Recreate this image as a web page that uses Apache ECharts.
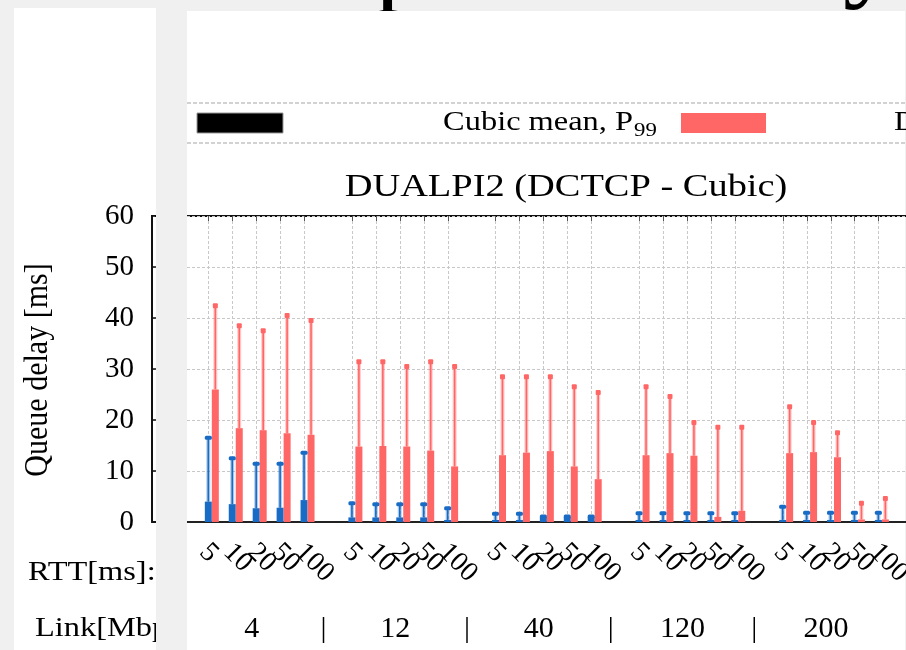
<!DOCTYPE html>
<html><head><meta charset="utf-8">
<script src="https://cdn.jsdelivr.net/npm/echarts@6/dist/echarts.min.js"></script>
<style>html,body{margin:0;padding:0;background:#f0f0f0}#c{width:906px;height:650px}</style>
</head><body><div id="c"></div>
<script>
// ---- data ----
const linkRates = ['4', '12', '40', '120', '200'];
const rttLabels = ['5', '10', '20', '50', '100'];
const yTicks = [0, 10, 20, 30, 40, 50, 60];
const dctcpMean = [4.0, 3.5, 2.7, 2.8, 4.3,  0.9, 0.9, 0.9, 0.9, 0.4,  0.4, 0.4, 1.0, 1.0, 1.0,  0.4, 0.4, 0.4, 0.4, 0.4,  0.4, 0.4, 0.4, 0.4, 0.4];
const dctcpP99  = [16.5, 12.5, 11.4, 11.4, 13.6,  3.7, 3.5, 3.5, 3.5, 2.7,  1.6, 1.6, 1.1, 1.1, 1.1,  1.7, 1.7, 1.7, 1.7, 1.7,  3.0, 1.8, 1.8, 1.8, 1.8];
const cubicMean = [26.0, 18.4, 18.0, 17.4, 17.1,  14.8, 14.9, 14.8, 14.0, 10.9,  13.1, 13.6, 13.9, 10.9, 8.4,  13.1, 13.5, 13.0, 1.0, 2.2,  13.5, 13.7, 12.7, 0.5, 0.5];
const cubicP99  = [42.4, 38.5, 37.5, 40.5, 39.5,  31.4, 31.4, 30.5, 31.4, 30.5,  28.5, 28.5, 28.5, 26.5, 25.4,  26.5, 24.6, 19.5, 18.6, 18.6,  22.6, 19.5, 17.5, 3.7, 4.6];

// ---- layout / style ----
const FONT = '"Liberation Serif", "Times New Roman", serif';
const BLUE = '#186cc6', RED = '#ff6666';
const BAR_W = 7;
const SLOT = 23.93, LEAD = 2, TRAIL = 2;
const GRID_LEFT = 152, GRID_TOP = 216, GRID_H = 306;

// build slots (leading empties, groups separated by gap slots)
const slots = [];
for (let k = 0; k < LEAD; k++) slots.push({ rtt: '', link: '', di: -1 });
linkRates.forEach((lr, g) => {
  if (g > 0) slots.push({ rtt: '', link: '|', di: -1 });
  rttLabels.forEach((r, j) => slots.push({ rtt: r, link: j === 2 ? lr : '', di: g * rttLabels.length + j }));
});
for (let k = 0; k < TRAIL; k++) slots.push({ rtt: '', link: '', di: -1 });
const slotNames = slots.map((s, i) => 'slot' + i);
const GRID_W = slots.length * SLOT;

const barData = arr => slots.map(s => s.di < 0 ? '-' : arr[s.di]);
const errData = (m, p) => slots.map((s, i) => s.di < 0 ? null : [i, m[s.di], p[s.di]]).filter(Boolean);
const gridLineData = slots.map((s, i) => s.di < 0 ? null : [i, 0]).filter(Boolean);

function errRender(offset, color, blueCap) {
  return function (params, api) {
    const idx = api.value(0);
    const a = api.coord([idx, api.value(1)]);
    const b = api.coord([idx, api.value(2)]);
    const x = a[0] + offset;
    const children = [
      { type: 'line', shape: { x1: x, y1: a[1], x2: x, y2: b[1] }, style: { stroke: color, lineWidth: 4, opacity: 0.35 } },
      { type: 'line', shape: { x1: x, y1: a[1], x2: x, y2: b[1] }, style: { stroke: color, lineWidth: 1.6 } }
    ];
    if (blueCap) {
      children.push({ type: 'rect', shape: { x: x - 3.5, y: b[1] - 2, width: 7, height: 4, r: 1.5 }, style: { fill: color } });
    } else {
      children.push({ type: 'rect', shape: { x: x - 2.5, y: b[1] - 2.5, width: 5, height: 5, r: 1 }, style: { fill: color } });
    }
    return { type: 'group', children };
  };
}

const chart = echarts.init(document.getElementById('c'), null, { renderer: 'canvas' });
chart.setOption({
  backgroundColor: '#f0f0f0',
  animation: false,
  textStyle: { fontFamily: FONT },
  grid: [
    { left: GRID_LEFT, top: GRID_TOP, width: GRID_W, height: GRID_H, show: true, borderColor: '#111', borderWidth: 2,
      backgroundColor: 'transparent', containLabel: false, outerBoundsMode: 'none' },
    { left: GRID_LEFT - 8, top: GRID_TOP, width: GRID_W, height: GRID_H, show: false, containLabel: false, outerBoundsMode: 'none' }
  ],
  xAxis: [
    { gridIndex: 0, type: 'category', data: slotNames, position: 'bottom', boundaryGap: true,
      axisLine: { show: true, lineStyle: { color: '#222', width: 2 } }, axisTick: { show: false },
      axisLabel: { show: false }, splitLine: { show: false } },
    { gridIndex: 1, type: 'category', data: slotNames, position: 'bottom', boundaryGap: true,
      axisLine: { show: false }, axisTick: { show: false }, splitLine: { show: false },
      axisLabel: { interval: 0, rotate: -45, margin: 26, color: '#000', fontFamily: FONT, fontSize: 28,
        formatter: (v, i) => slots[i].rtt } },
    { gridIndex: 1, type: 'category', data: slotNames, position: 'bottom', offset: 92, boundaryGap: true,
      axisLine: { show: false }, axisTick: { show: false }, splitLine: { show: false },
      axisLabel: { interval: 0, margin: 0, color: '#000', fontFamily: FONT, fontSize: 30,
        formatter: (v, i) => slots[i].link } }
  ],
  yAxis: [
    { gridIndex: 0, type: 'value', min: yTicks[0], max: yTicks[yTicks.length - 1], interval: 10,
      axisLine: { show: true, lineStyle: { color: '#111', width: 2 } },
      axisTick: { show: true, inside: true, length: 4, lineStyle: { color: '#111', width: 1.5 } },
      axisLabel: { margin: 18, color: '#000', fontFamily: FONT, fontSize: 29 },
      splitLine: { show: true, lineStyle: { color: '#c8c8c8', width: 1, type: [3, 2] } } },
    { gridIndex: 1, type: 'value', show: false, min: 0, max: 60 }
  ],
  graphic: { elements: [
    // panels and left-panel captions (main panel hides caption overflow)
    { type: 'rect', z: -4, shape: { x: 14, y: 8, width: 142, height: 650 }, style: { fill: '#fff' } },
    { type: 'text', z: -3, x: 375, y: -38, style: { text: 'p', font: '110px ' + FONT, fill: '#000', align: 'left', verticalAlign: 'middle' } },
    { type: 'text', z: -3, x: 843, y: -42, style: { text: 'y', font: '110px ' + FONT, fill: '#000', align: 'left', verticalAlign: 'middle' } },
    { type: 'text', z: -3, x: 28, y: 573, scaleX: 1.2, style: { text: 'RTT[ms]:', font: '27px ' + FONT, fill: '#000', align: 'left', verticalAlign: 'middle' } },
    { type: 'text', z: -3, x: 35, y: 629, scaleX: 1.2, style: { text: 'Link[Mbps]:', font: '27px ' + FONT, fill: '#000', align: 'left', verticalAlign: 'middle' } },
    { type: 'text', z: -3, x: 38, y: 370, rotation: Math.PI / 2, scaleY: 1.15, style: { text: 'Queue delay [ms]', font: '30px ' + FONT, fill: '#000', align: 'center', verticalAlign: 'middle' } },
    { type: 'rect', z: -2, shape: { x: 187, y: 11, width: 718, height: 650 }, style: { fill: '#fff' } },
    // strip between the panels (covers the plot)
    { type: 'rect', z: 100, shape: { x: 156, y: 0, width: 31, height: 650 }, style: { fill: '#f0f0f0' } },
    // legend row
    { type: 'line', z: 5, shape: { x1: 187, y1: 103, x2: 905, y2: 103 }, style: { stroke: '#c4c4c4', lineWidth: 1.5, lineDash: [4, 2] } },
    { type: 'line', z: 5, shape: { x1: 187, y1: 143, x2: 905, y2: 143 }, style: { stroke: '#c4c4c4', lineWidth: 1.5, lineDash: [4, 2] } },
    { type: 'rect', z: 5, shape: { x: 197, y: 113, width: 86, height: 20 }, style: { fill: '#000', stroke: '#999', lineWidth: 1 } },
    { type: 'text', z: 5, x: 633, y: 123, scaleX: 1.2, style: { text: 'Cubic mean, P', font: '27px ' + FONT, fill: '#000', align: 'right', verticalAlign: 'middle' } },
    { type: 'text', z: 5, x: 634, y: 131, scaleX: 1.2, style: { text: '99', font: '19px ' + FONT, fill: '#000', align: 'left', verticalAlign: 'middle' } },
    { type: 'rect', z: 5, shape: { x: 681, y: 113, width: 85, height: 20 }, style: { fill: RED } },
    { type: 'text', z: 5, x: 894, y: 123, scaleX: 1.2, style: { text: 'DCTCP mean, P', font: '27px ' + FONT, fill: '#000', align: 'left', verticalAlign: 'middle' } },
    // title
    { type: 'text', z: 5, x: 566, y: 188, scaleX: 1.2, style: { text: 'DUALPI2 (DCTCP - Cubic)', font: '32px ' + FONT, fill: '#000', align: 'center', verticalAlign: 'middle' } }
  ] },
  series: [
    { type: 'custom', name: 'grid', xAxisIndex: 0, yAxisIndex: 0, z: 1, silent: true,
      encode: { x: 0, y: 1 }, data: gridLineData,
      renderItem: (params, api) => {
        const idx = api.value(0);
        const top = api.coord([idx, yTicks[yTicks.length - 1]]);
        const bot = api.coord([idx, 0]);
        const x = Math.round(top[0] - BAR_W / 2) + 0.5;
        return { type: 'group', children: [
          { type: 'line', shape: { x1: x, y1: top[1], x2: x, y2: bot[1] }, style: { stroke: '#c8c8c8', lineWidth: 1, lineDash: [3, 2] } },
          { type: 'line', shape: { x1: x, y1: top[1], x2: x, y2: top[1] + 5 }, style: { stroke: '#555', lineWidth: 1 } }
        ] };
      } },
    { type: 'bar', name: 'DCTCP mean', xAxisIndex: 0, yAxisIndex: 0, z: 2, barWidth: BAR_W, barGap: '0%',
      itemStyle: { color: BLUE }, data: barData(dctcpMean) },
    { type: 'bar', name: 'Cubic mean', xAxisIndex: 0, yAxisIndex: 0, z: 2, barWidth: BAR_W, barGap: '0%',
      itemStyle: { color: RED }, data: barData(cubicMean) },
    { type: 'custom', name: 'DCTCP P99', xAxisIndex: 0, yAxisIndex: 0, z: 3, encode: { x: 0, y: [1, 2] },
      data: errData(dctcpMean, dctcpP99), renderItem: errRender(-BAR_W / 2, BLUE, true) },
    { type: 'custom', name: 'Cubic P99', xAxisIndex: 0, yAxisIndex: 0, z: 3, encode: { x: 0, y: [1, 2] },
      data: errData(cubicMean, cubicP99), renderItem: errRender(BAR_W / 2, RED, false) }
  ]
});
</script></body></html>
